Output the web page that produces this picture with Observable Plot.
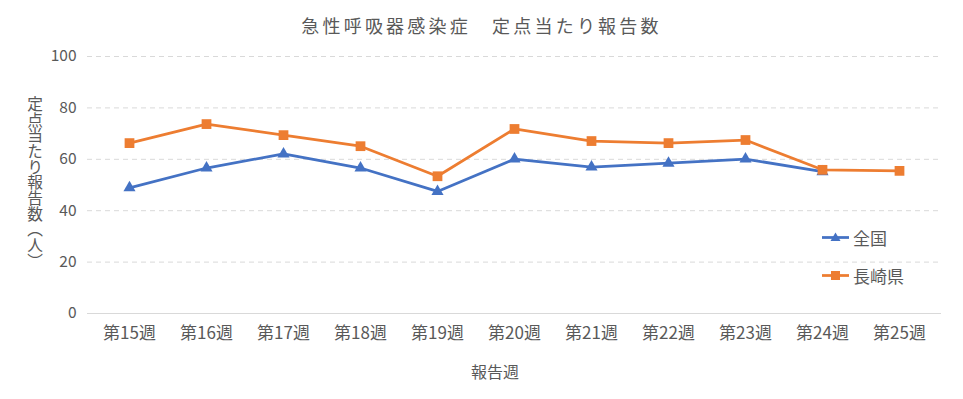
<!DOCTYPE html>
<html><head><meta charset="utf-8">
<script src="https://cdn.jsdelivr.net/npm/d3@7"></script>
<script src="https://cdn.jsdelivr.net/npm/@observablehq/plot@0.6"></script>
<style>
body{margin:0;background:#fff;font-family:"Noto Sans CJK JP","Noto Sans",sans-serif;color:#595959;}
#wrap{position:relative;width:963px;height:399px;overflow:hidden;}
#title{position:absolute;left:0;width:963px;top:12px;text-align:center;font-size:18px;letter-spacing:3.2px;}
#ylab{position:absolute;left:27px;top:96px;writing-mode:vertical-rl;text-orientation:upright;font-size:15.7px;line-height:1;}
#xlab{position:absolute;left:0;width:990px;top:359px;text-align:center;font-size:16px;}
.leg{position:absolute;left:822px;font-size:17px;display:flex;align-items:center;}
</style></head>
<body><div id="wrap">
<div id="chart"></div>
<div id="title">急性呼吸器感染症　定点当たり報告数</div>
<div id="ylab"></div>
<div id="xlab">報告週</div>
<div id="legend"></div>
</div>
<script>
const weeks = ["第15週","第16週","第17週","第18週","第19週","第20週","第21週","第22週","第23週","第24週","第25週"];
const national = [48.9, 56.6, 62.1, 56.6, 47.5, 60.1, 57.0, 58.5, 60.1, 55.2, null];
const nagasaki = [66.3, 73.7, 69.4, 65.1, 53.4, 71.8, 67.1, 66.3, 67.5, 55.9, 55.5];
const yTicks = [0, 20, 40, 60, 80, 100];
const seriesNames = ["全国", "長崎県"];
const yTitle = "定点当たり報告数（人）";
const colors = ["#4472C4", "#ED7D31"];
const symbols = ["triangle", "square"];

const natRows = weeks.map((w,i)=>({week:w, value:national[i]})).filter(d=>d.value!=null);
const nagRows = weeks.map((w,i)=>({week:w, value:nagasaki[i]}));

const chart = Plot.plot({
  width: 963, height: 399,
  marginTop: 56, marginBottom: 86, marginLeft: 87, marginRight: 22,
  style: {fontFamily: '"Noto Sans CJK JP", sans-serif', fontSize: "15px", color: "#595959", background: "#fff"},
  x: {type: "point", domain: weeks, padding: 0.5, label: null},
  y: {domain: [0, 100], label: null},
  marks: [
    Plot.ruleY(yTicks.filter(t=>t>0), {stroke: "#d9d9d9", strokeWidth: 1, strokeDasharray: "5,4"}),
    Plot.ruleY([0], {stroke: "#d9d9d9", strokeWidth: 1}),
    Plot.axisX({tickSize: 0, tickPadding: 13, fontSize: 17, label: null, fill: "#595959"}),
    Plot.axisY({ticks: yTicks, tickSize: 0, tickPadding: 11, fontSize: 15.5, label: null, fill: "#595959"}),
    Plot.line(natRows, {x: "week", y: "value", stroke: colors[0], strokeWidth: 2.75}),
    Plot.dot(natRows, {x: "week", y: "value", symbol: symbols[0], fill: colors[0], r: 4.5}),
    Plot.line(nagRows, {x: "week", y: "value", stroke: colors[1], strokeWidth: 2.75}),
    Plot.dot(nagRows, {x: "week", y: "value", symbol: symbols[1], fill: colors[1], r: 5.5})
  ]
});
document.getElementById("chart").appendChild(chart);

document.getElementById("ylab").textContent = yTitle;

const leg = document.getElementById("legend");
const legTops = [225, 263];
seriesNames.forEach((name, i) => {
  const div = document.createElement("div");
  div.className = "leg";
  div.style.top = legTops[i] + "px";
  const sym = i === 0
    ? `<path d="M13.5,1.5 L18.5,10 L8.5,10 Z" fill="${colors[i]}"/>`
    : `<rect x="9" y="2" width="9" height="9" fill="${colors[i]}"/>`;
  div.innerHTML = `<svg width="28" height="13" style="margin-right:3px"><line x1="0" x2="27" y1="6.5" y2="6.5" stroke="${colors[i]}" stroke-width="2.75"/>${sym}</svg><span>${name}</span>`;
  leg.appendChild(div);
});
</script>
</body></html>
